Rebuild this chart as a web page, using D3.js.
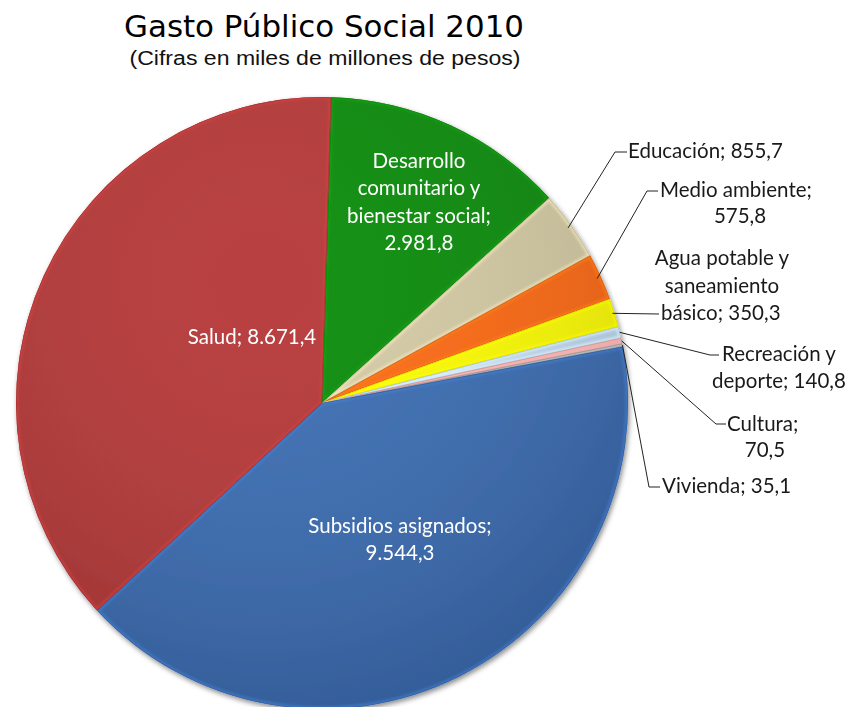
<!DOCTYPE html>
<html><head><meta charset="utf-8">
<script src="https://cdn.jsdelivr.net/npm/d3@7"></script>
<style>body{margin:0;background:#fff}svg{display:block}</style>
</head><body>
<script>
const categories = ["Desarrollo comunitario y bienestar social","Educación","Medio ambiente","Agua potable y saneamiento básico","Recreación y deporte","Cultura","Vivienda","Subsidios asignados","Salud"];
const values = [2981.8, 855.7, 575.8, 350.3, 140.8, 70.5, 35.1, 9544.3, 8671.4];
const valueLabels = ["2.981,8","855,7","575,8","350,3","140,8","70,5","35,1","9.544,3","8.671,4"];
const colors = ["#0C8C0C","#D5CBA5","#FF6A14","#FFFF00","#BFD8F2","#F2A2A2","#A8A8A8","#3B6DB3","#B63838"];

const W=851,H=707, cx=322, cy=403, R=306;
const svg=d3.select("body").append("svg").attr("width",W).attr("height",H);
const defs=svg.append("defs");
const sh=defs.append("filter").attr("id","shadow").attr("x","-10%").attr("y","-10%").attr("width","120%").attr("height","120%");
sh.append("feDropShadow").attr("dx",1.5).attr("dy",2.5).attr("stdDeviation",2.5).attr("flood-color","#000").attr("flood-opacity",0.45);
const bl=defs.append("filter").attr("id","blur");
bl.append("feGaussianBlur").attr("stdDeviation",1.6);
const lg=defs.append("radialGradient").attr("id","shade").attr("gradientUnits","userSpaceOnUse")
  .attr("cx",-60).attr("cy",-120).attr("r",R*1.5);
lg.append("stop").attr("offset","0%").attr("stop-color","#fff").attr("stop-opacity",0.04);
lg.append("stop").attr("offset","100%").attr("stop-color","#000").attr("stop-opacity",0.16);

svg.append("text").attr("x",324).attr("y",37).attr("text-anchor","middle")
  .attr("font-family","'Liberation Sans Narrow','DejaVu Sans Condensed','Roboto Condensed',sans-serif")
  .attr("font-size",31).attr("fill","#000").attr("textLength",400).attr("lengthAdjust","spacingAndGlyphs")
  .text("Gasto Público Social 2010");
svg.append("text").attr("x",325).attr("y",65).attr("text-anchor","middle")
  .attr("font-family","'Liberation Sans',Arial,sans-serif").attr("font-size",19.5).attr("fill","#111")
  .attr("textLength",391).attr("lengthAdjust","spacingAndGlyphs")
  .text("(Cifras en miles de millones de pesos)");

const start = 0.03;
const pie=d3.pie().sort(null).startAngle(start).endAngle(start+2*Math.PI);
const arcs=pie(values);
const arc=d3.arc().innerRadius(0).outerRadius(R);
const g=svg.append("g").attr("transform",`translate(${cx},${cy})`);
const gs=g.append("g").attr("filter","url(#shadow)");
arcs.forEach((a,i)=>{
  defs.append("clipPath").attr("id","c"+i).append("path").attr("d",arc(a));
  const s=gs.append("g");
  s.append("path").attr("d",arc(a)).attr("fill",colors[i]);
  const sg=s.append("g").attr("clip-path",`url(#c${i})`);
  sg.append("path").attr("d",arc(a)).attr("fill","url(#shade)");
  sg.append("path").attr("d",arc(a)).attr("fill","none")
    .attr("stroke",d3.color(colors[i]).brighter(0.5)).attr("stroke-width",5).attr("filter","url(#blur)").attr("opacity",0.6);
  sg.append("path").attr("d",arc(a)).attr("fill","none")
    .attr("stroke",d3.color(colors[i]).darker(0.8)).attr("stroke-width",1.2).attr("opacity",0.6);
});

// inside labels
const inLab=(lines,x,y0,lh)=>{
  const t=svg.append("text").attr("text-anchor","middle").attr("font-family","Lato,'Open Sans',sans-serif")
   .attr("font-size",20.5).attr("fill","#fff");
  lines.forEach((l,k)=>t.append("tspan").attr("x",x).attr("y",y0+k*lh).text(l));
};
inLab(["Desarrollo","comunitario y","bienestar social;",valueLabels[0]],419,168,27.3);
inLab(["Salud; "+valueLabels[8]],252,344,27);
inLab(["Subsidios asignados;",valueLabels[7]],400,533,27);

// outside labels with leaders
const edge=(i,rr)=>{const a=(arcs[i].startAngle+arcs[i].endAngle)/2;return [cx+Math.sin(a)*rr, cy-Math.cos(a)*rr];};
const lead=svg.append("g").attr("fill","none").attr("stroke","#222").attr("stroke-width",1);
const outLab=(lines,x,y0,lh,anchor)=>{
  const t=svg.append("text").attr("text-anchor",anchor).attr("font-family","Lato,'Open Sans',sans-serif")
   .attr("font-size",20.5).attr("fill","#1a1a1a");
  lines.forEach((l,k)=>t.append("tspan").attr("x",x).attr("y",y0+k*lh).text(l));
};
const line=d3.line();
let p;
p=edge(1,R-4); lead.append("path").attr("d",line([p,[615,152],[627,152]]));
outLab(["Educación; "+valueLabels[1]],628,158,27,"start");
p=edge(2,R-4); lead.append("path").attr("d",line([p,[647,191],[658,191]]));
outLab(["Medio ambiente;"],660,197,27,"start");
outLab([valueLabels[2]],740,223,27,"middle");
p=edge(3,R-2); lead.append("path").attr("d",line([p,[659,314]]));
outLab(["Agua potable y","saneamiento"],722,265,27.5,"middle");
outLab(["básico; "+valueLabels[3]],661,320,27,"start");
p=edge(4,R); lead.append("path").attr("d",line([p,[710,355],[719,355]]));
outLab(["Recreación y"],722,361,27,"start");
outLab(["deporte; "+valueLabels[4]],712,388,27,"start");
p=edge(5,R); lead.append("path").attr("d",line([p,[716,424],[726,424]]));
outLab(["Cultura;"],727,431,27,"start");
outLab([valueLabels[5]],765,457,27,"middle");
p=edge(6,R); lead.append("path").attr("d",line([p,[649,487],[660,487]]));
outLab(["Vivienda; "+valueLabels[6]],662,493,27,"start");
</script>
</body></html>
